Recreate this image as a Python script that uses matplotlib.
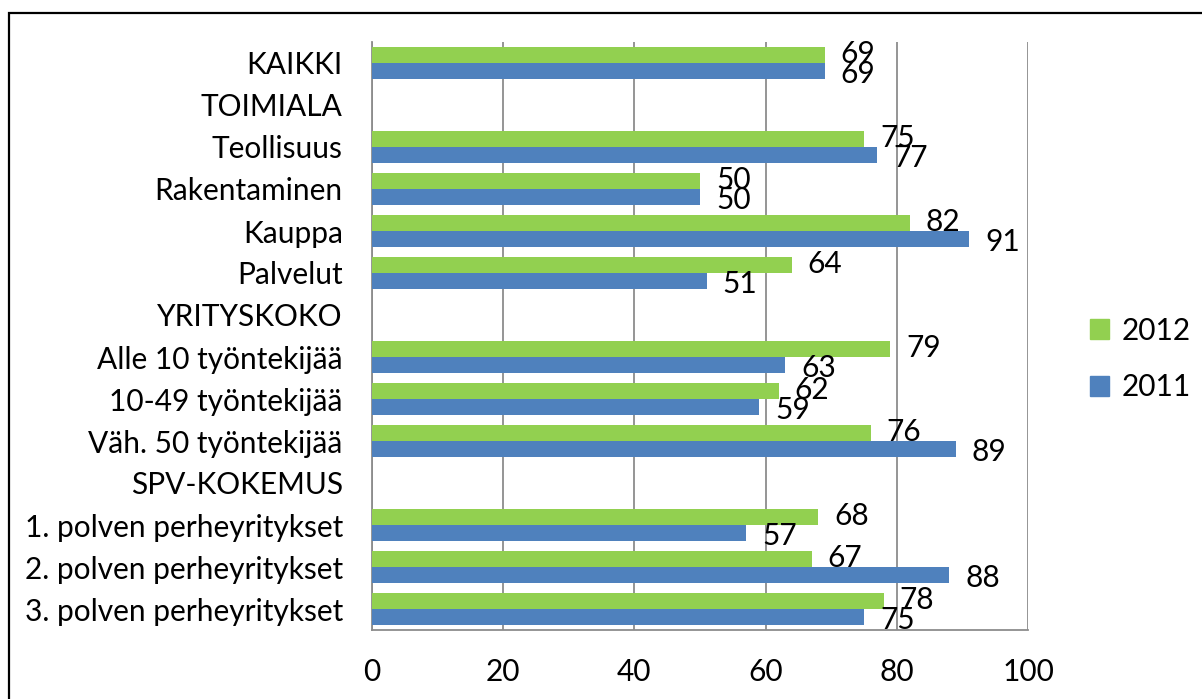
import matplotlib
matplotlib.use("Agg")
import matplotlib.pyplot as plt
from matplotlib.patches import Rectangle, Patch
import numpy as np

categories = ["KAIKKI", "TOIMIALA", "Teollisuus", "Rakentaminen", "Kauppa", "Palvelut",
              "YRITYSKOKO", "Alle 10 työntekijää", "10-49 työntekijää", "Väh. 50 työntekijää",
              "SPV-KOKEMUS", "1. polven perheyritykset", "2. polven perheyritykset",
              "3. polven perheyritykset"]
values_2012 = [69, None, 75, 50, 82, 64, None, 79, 62, 76, None, 68, 67, 78]
values_2011 = [69, None, 77, 50, 91, 51, None, 63, 59, 89, None, 57, 88, 75]
x_ticks = [0, 20, 40, 60, 80, 100]

GREEN = "#92D050"
BLUE = "#4F81BD"

plt.rcParams['font.family'] = ['Lato', 'DejaVu Sans']
FS = 21.5

fig = plt.figure(figsize=(12.02, 6.99), dpi=100)
ax = fig.add_axes([372/1202, 1-630/699, (1028-372)/1202, (630-42)/699])

n = len(categories)
y = np.arange(n)
h = 0.39
g = [v if v is not None else 0 for v in values_2012]
b = [v if v is not None else 0 for v in values_2011]
ax.barh(y - h/2, g, height=h, color=GREEN, zorder=3)
ax.barh(y + h/2, b, height=h, color=BLUE, zorder=3)

for i in range(n):
    if values_2012[i] is not None:
        ax.annotate(str(values_2012[i]), (values_2012[i], y[i] - h/2), xytext=(16, 1),
                    textcoords="offset pixels", ha="left", va="center", fontsize=FS, zorder=4)
    if values_2011[i] is not None:
        ax.annotate(str(values_2011[i]), (values_2011[i], y[i] + h/2), xytext=(16, -3),
                    textcoords="offset pixels", ha="left", va="center", fontsize=FS, zorder=4)

ax.set_xlim(0, 100)
ax.set_ylim(n - 0.5, -0.5)
ax.set_xticks(x_ticks)
ax.set_xticklabels([str(t) for t in x_ticks], fontsize=FS)
ax.set_yticks(y)
ax.set_yticklabels(categories, fontsize=FS)
ax.tick_params(axis='x', length=0, pad=20)
ax.tick_params(axis='y', length=0, pad=21)
ax.grid(axis='x', color="#8C8C8C", linewidth=1.3, zorder=0)
for s in ["top", "right"]:
    ax.spines[s].set_visible(False)
for s in ["left", "bottom"]:
    ax.spines[s].set_color("#8C8C8C")
    ax.spines[s].set_linewidth(1.3)

handles = [Patch(color=GREEN, label="2012"), Patch(color=BLUE, label="2011")]
fig.legend(handles=handles, loc="center left", bbox_to_anchor=(1063/1202, 1-359/699),
           frameon=False, fontsize=FS, handlelength=0.65, handleheight=0.65,
           handletextpad=0.4, labelspacing=0.95)

fig.add_artist(Rectangle((9/1202, -0.05), 1.2, (699-13)/699 + 0.05, transform=fig.transFigure,
                         fill=False, edgecolor="black", linewidth=1.6, clip_on=False))

fig.savefig("out.png", dpi=100)
